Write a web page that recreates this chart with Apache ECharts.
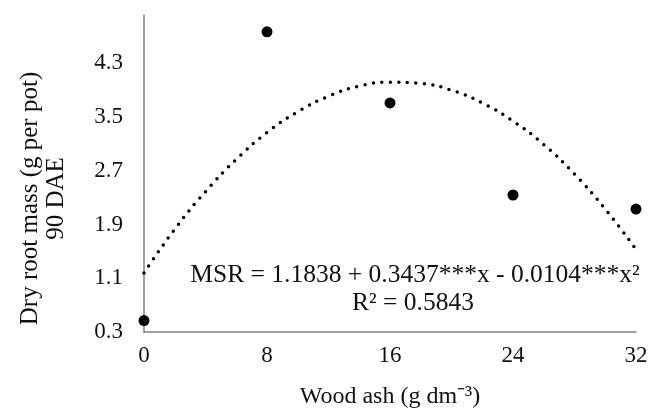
<!DOCTYPE html>
<html>
<head>
<meta charset="utf-8">
<script src="https://cdn.jsdelivr.net/npm/echarts@6/dist/echarts.min.js"></script>
<style>
  html, body { margin: 0; padding: 0; background: #fff; }
  #chart { width: 670px; height: 414px; }
</style>
</head>
<body>
<div id="chart"></div>
<script>
// observed points (wood ash dose, dry root mass)
const ashDoses = [0, 8, 16, 24, 32]
const rootMass = [0.47, 4.77, 3.71, 2.34, 2.13]

// fitted curve, values
const curveX = [0, 2, 4, 6, 8, 10, 12, 14, 16, 18, 20, 22, 24, 26, 28, 30, 32]
const curveY = [1.18, 1.83, 2.39, 2.87, 3.27, 3.58, 3.81, 3.96, 4.02, 4.00, 3.90, 3.71, 3.44, 3.09, 2.65, 2.13, 1.53]

const xTicks = [0, 8, 16, 24, 32]
const yTicks = [0.3, 1.1, 1.9, 2.7, 3.5, 4.3]

const eqLine1 = 'MSR = 1.1838 + 0.3437***x - 0.0104***x²'
const eqLine2 = 'R² = 0.5843'

const font = '"Liberation Serif", "Times New Roman", serif'
const chart = echarts.init(document.getElementById('chart'))

let option = {
    animation: false,
    textStyle: { fontFamily: font },
    grid: { left: 144, right: 34, top: 15, bottom: 79 },
    xAxis: {
        type: 'value',
        min: xTicks[0],
        max: xTicks[xTicks.length - 1],
        interval: 8,
        name: 'Wood ash (g dm⁻³)',
        nameLocation: 'middle',
        nameGap: 53,
        nameTextStyle: { color: '#111', fontSize: 24, fontFamily: font },
        axisLine: { lineStyle: { color: '#808080', width: 1.5 } },
        axisTick: { show: false },
        splitLine: { show: false },
        axisLabel: { color: '#111', fontSize: 23, fontFamily: font, margin: 12 }
    },
    yAxis: {
        type: 'value',
        min: yTicks[0],
        max: 5.02,
        interval: 0.8,
        name: 'Dry root mass (g per pot)\n90 DAE',
        nameLocation: 'middle',
        nameGap: 75,
        nameRotate: 90,
        nameTextStyle: { color: '#111', fontSize: 25, lineHeight: 26, fontFamily: font, padding: [0, 50, 0, 0] },
        axisLine: { show: true, lineStyle: { color: '#808080', width: 1.5 } },
        axisTick: { show: false },
        splitLine: { show: false },
        axisLabel: {
            color: '#111', fontSize: 23, fontFamily: font, margin: 21,
            showMaxLabel: false,
            formatter: v => v.toFixed(1)
        }
    },
    graphic: [
        {
            type: 'text', x: 415, y: 275,
            style: { text: eqLine1, font: '25.5px ' + font, fill: '#111', align: 'center', verticalAlign: 'middle' }
        },
        {
            type: 'text', x: 413, y: 303,
            style: { text: eqLine2, font: '25.5px ' + font, fill: '#111', align: 'center', verticalAlign: 'middle' }
        }
    ],
    series: [
        {
            type: 'line',
            data: curveX.map((x, i) => [x, curveY[i]]),
            smooth: true,
            symbol: 'none',
            lineStyle: { color: '#000', width: 3.5, type: [0, 8.5], cap: 'round' },
            z: 1
        },
        {
            type: 'scatter',
            data: ashDoses.map((x, i) => [x, rootMass[i]]),
            symbol: 'circle',
            symbolSize: 11,
            itemStyle: { color: '#000', opacity: 1 },
            z: 3
        }
    ]
}
chart.setOption(option)
</script>
</body>
</html>
